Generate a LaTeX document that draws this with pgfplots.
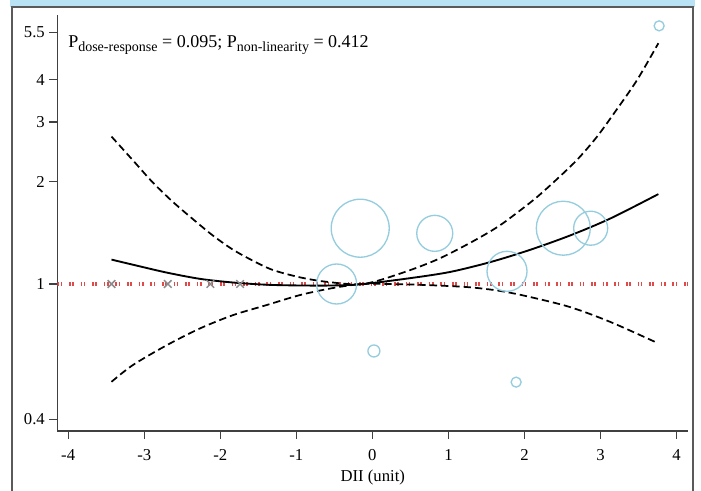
\documentclass[border=0pt]{standalone}
\usepackage{fontspec}
\setmainfont{Liberation Serif}
\usepackage{pgfplots}
\pgfplotsset{compat=1.18}
\definecolor{circblue}{RGB}{150,205,222}
\definecolor{refred}{RGB}{222,75,75}
\definecolor{bandblue}{RGB}{185,226,245}
\definecolor{framegray}{RGB}{90,90,90}
\definecolor{xgray}{RGB}{140,140,140}
\newcommand{\fs}{\fontsize{12.5}{15}\selectfont}
\newcommand{\sub}[1]{\raisebox{-0.45ex}{\fontsize{10.5}{11}\selectfont #1}}
\begin{document}
\begin{tikzpicture}[x=0.75pt,y=0.75pt,font=\fs]
\useasboundingbox (0,0) rectangle (701,490);
\fill[bandblue] (10,483) rectangle (695,490);
\draw[framegray,line width=1.5pt] (11.5,-2) -- (11.5,482.5) -- (693,482.5) -- (693,-2);
\begin{axis}[at={(43.125pt,44.25pt)}, anchor=south west,
  width=472.9pt, height=312pt, scale only axis,
  xmin=-4.14, xmax=4.15, ymin=0.369, ymax=6.2, ymode=log,
  axis x line*=bottom, axis y line*=left,
  axis line style={draw=black!75, line width=0.9pt},
  xtick={-4,-3,-2,-1,0,1,2,3,4}, xticklabels={-4,-3,-2,-1,0,1,2,3,4},
  ytick={0.4,1,2,3,4,5.5}, yticklabels={0.4,1,2,3,4,5.5},
  tick align=outside, major tick length=6pt,
  tick style={black!75, line width=0.8pt},
  yminorticks=false, xminorticks=false,
  ticklabel style={font=\fs},
  xticklabel style={yshift=-4.5pt},
  xlabel={DII (unit)}, label style={font=\fs},
  xlabel style={yshift=0pt},
]
\addplot[scatter, only marks, mark=o, line width=1pt,
  scatter/use mapped color={draw=circblue},
  visualization depends on={0.75*\thisrow{r} \as \rr},
  scatter/@pre marker code/.append style={/tikz/mark size=\rr pt}]
table {
x y r
-0.16 1.46 29
0.82 1.41 18
-0.47 1.0 20
1.77 1.09 20
2.51 1.46 27
2.87 1.46 17
0.02 0.635 6
1.89 0.514 5
3.77 5.76 5
};
\addplot[refred, line width=2.4pt, dash pattern=on 1.2pt off 1.2pt on 1.2pt off 5.1pt] coordinates {(-4.14,1) (4.15,1)};
\addplot[only marks, mark=x, mark size=4pt, color=xgray, line width=1.1pt] coordinates {(-3.43,1) (-2.69,1) (-2.13,1) (-1.74,1)};
% fitted curve
\addplot[black, line width=1.4pt, smooth] table {
x y
-3.43 1.18
-3.15 1.14
-2.70 1.08
-2.26 1.035
-1.83 1.01
-1.39 0.995
-0.95 0.99
-0.52 0.99
-0.12 1.00
0.49 1.04
1.02 1.085
1.55 1.16
2.07 1.26
2.60 1.39
3.13 1.56
3.76 1.84
};
% upper CI
\addplot[black, line width=1.3pt, smooth, dash pattern=on 5.5pt off 3pt] table {
x y
-3.43 2.718
-3.15 2.316
-2.89 1.994
-2.63 1.751
-2.36 1.553
-2.10 1.391
-1.84 1.265
-1.58 1.174
-1.31 1.100
-0.95 1.046
-0.60 1.015
-0.12 1.00
0.40 1.08
0.85 1.18
1.28 1.32
1.64 1.47
1.90 1.62
2.16 1.80
2.42 2.03
2.69 2.32
2.95 2.71
3.21 3.26
3.48 3.99
3.76 5.12
};
% lower CI
\addplot[black, line width=1.3pt, smooth, dash pattern=on 5.5pt off 3pt] table {
x y
-3.43 0.515
-3.15 0.577
-2.70 0.661
-2.26 0.741
-1.83 0.81
-1.39 0.867
-0.95 0.928
-0.52 0.973
-0.12 1.0
0.40 0.998
0.85 0.99
1.28 0.978
1.68 0.954
2.07 0.916
2.60 0.855
3.13 0.773
3.75 0.67
};
\node[anchor=base west, inner sep=0pt, font=\fontsize{13.5}{16}\selectfont] at (rel axis cs:0.0167,0.921) {P\sub{dose-response} = 0.095; P\sub{non-linearity} = 0.412};
\end{axis}
\end{tikzpicture}
\end{document}
